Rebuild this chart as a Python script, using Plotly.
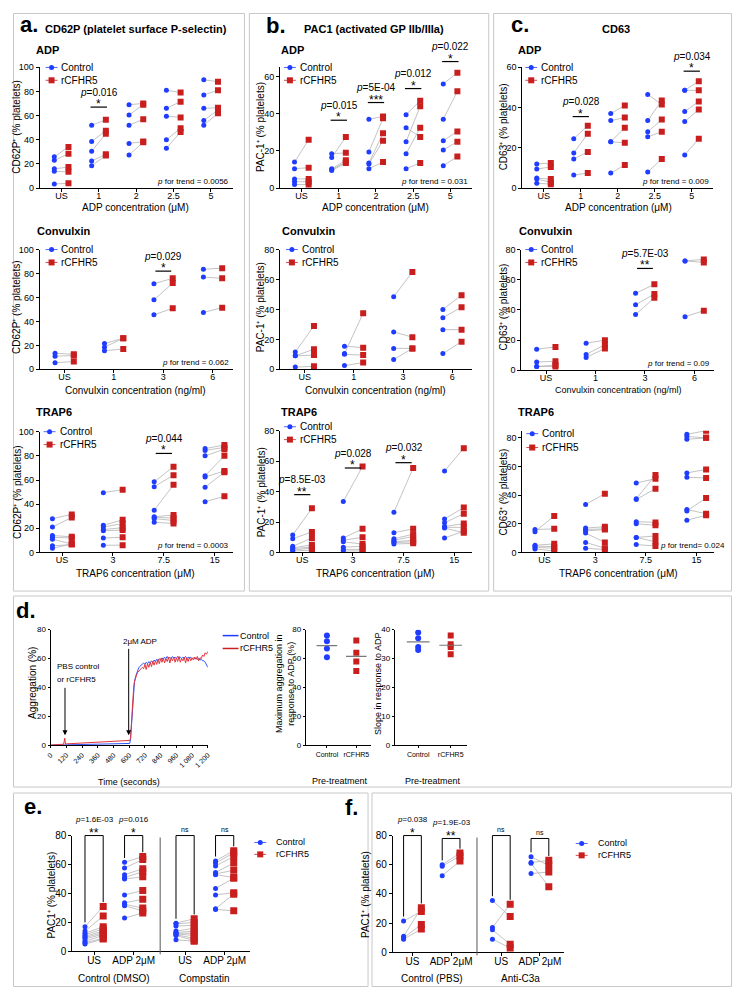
import plotly.graph_objects as go

# ---------------- data ----------------
adp_cats = ["US", "1", "2", "2.5", "5"]
cvx_cats = ["US", "1", "3", "6"]
trap_cats = ["US", "3", "7.5", "15"]
stim_cats = ["US", "ADP 2μM", "US", "ADP 2μM"]

# a. CD62P
cd62p_adp_ctrl = [[26, 23, 16, 14, 3.5], [52, 38.5, 30.5, 22.5, 18.5], [69, 60.5, 52, 37, 27.5],
                  [81, 66, 59.5, 40, 33], [89.5, 77, 66, 56, 52]]
cd62p_adp_rc = [[34, 28.5, 17.5, 13.5, 4], [56.5, 47.5, 45, 28, 27], [70, 69, 57, 38.5, 38],
                [79, 71.5, 58.5, 49.5, 46.5], [88, 81, 66.5, 64.5, 62]]
cd62p_cvx_ctrl = [[13.5, 11, 5.5], [21.5, 18.5, 15.5], [71.5, 58, 45.5], [83.5, 77, 47.5]]
cd62p_cvx_rc = [[12.5, 11.5, 6.5], [26, 26, 17], [76, 72, 51], [84.5, 76, 51.5]]
cd62p_trap_ctrl = [[28, 21, 14, 12.5, 11, 5.5, 3.5], [49.5, 22.5, 21, 19, 18, 12, 6],
                   [58.5, 54.5, 35, 29.5, 29, 28, 25], [86, 84.5, 80, 63.5, 62.5, 54, 42]]
cd62p_trap_rc = [[31.5, 29, 13, 12, 7, 6.5, 7], [52, 27, 24, 20.5, 18.5, 12.5, 6],
                 [71, 64, 56, 31, 28.5, 26.5, 24], [89, 87, 85.5, 80, 67.5, 66.5, 46.5]]

# b. PAC-1
pac1_adp_ctrl = [[14, 10.5, 5, 3.5, 2], [18.5, 16.5, 10.5, 10, 9.5], [37, 19.5, 13.5, 13, 10.5],
                 [39.5, 32.5, 25, 18.5, 10.5], [56, 37, 25.5, 20.5, 12]]
pac1_adp_rc = [[26, 11, 5, 3.5, 2], [19, 27.5, 15, 14, 13.5], [38.5, 37.5, 29.5, 25.5, 14],
               [47, 27.5, 44, 32.5, 13.5], [62, 52, 30.5, 25, 17]]
pac1_cvx_ctrl = [[11.5, 9, 9, 1.5], [10.5, 15.5, 10, 2.5], [48.5, 25, 14, 6.5], [40, 34.5, 26.5, 10.5]]
pac1_cvx_rc = [[29, 13.5, 9.5, 2], [37.5, 14.5, 9.5, 4.5], [65, 21.5, 14, 14], [49.5, 41.5, 26.5, 18.5]]
pac1_trap_ctrl = [[11.5, 9, 4, 3, 2.5, 1.5, 1], [33.5, 9.5, 8, 7, 3.5, 2, 1],
                  [26.5, 13, 9, 8, 7, 6.5, 5.5], [53.5, 22, 19.5, 17, 16.5, 16, 9.5]]
pac1_trap_rc = [[29, 13.5, 9.5, 5, 3.5, 3, 1.5], [56.5, 15.5, 10, 5.5, 4, 2, 1],
                [55.5, 15.5, 12, 10.5, 8, 7, 6], [68.5, 29.5, 25.5, 19, 16.5, 13, 14]]

# c. CD63
cd63_adp_ctrl = [[12, 9.5, 5, 4.5, 2.5], [24.5, 17.5, 14.5, 6.5], [37, 33.5, 23, 23, 7.5],
                 [46.5, 33.5, 28, 25.5, 8], [48.5, 48.5, 38, 33, 16.5]]
cd63_adp_rc = [[12.5, 10.5, 4.5, 3, 2], [31, 27, 18, 7.5], [41, 35, 30, 22.5, 11.5],
               [41.5, 43.5, 34, 28, 14.5], [53, 48.5, 43, 39, 24.5]]
cd63_cvx_ctrl = [[14, 5.5, 2.5, 2.5], [18, 10.5, 8.5], [51, 43.5, 37], [72.5, 72.5, 35.5]]
cd63_cvx_rc = [[15.5, 6, 3.5, 2.5], [20, 17, 14.5], [57, 50.5, 48], [73.5, 71.5, 39.5]]
cd63_trap_ctrl = [[16, 14.5, 5, 4.5, 3.5, 2.5], [33.5, 17, 16, 15, 13.5, 7, 3],
                  [48.5, 37.5, 37, 21.5, 20, 10.5, 10.5, 5.5], [82.5, 81, 79, 55.5, 52.5, 30, 29, 22.5]]
cd63_trap_rc = [[16.5, 25.5, 6, 4, 3, 1], [41, 18, 16.5, 16, 7, 3, 2],
                [51.5, 54, 44.5, 21, 19, 11.5, 7.5, 4.5], [85, 80, 80, 58, 52, 27, 38, 26]]

# significance: (category index, bar level, p, stars)
cd62p_adp_sig = [(1, 67, "0.016", "*")]
pac1_adp_sig = [(1, 36.5, "0.015", "*"), (2, 46, "5E-04", "***"), (3, 53.5, "0.012", "*"), (4, 68, "0.022", "*")]
cd63_adp_sig = [(1, 35.5, "0.028", "*"), (4, 58, "0.034", "*")]
cd62p_cvx_sig = [(2, 82, "0.029", "*")]
cd63_cvx_sig = [(2, 67.5, "5.7E-03", "**")]
cd62p_trap_sig = [(2, 82, "0.044", "*")]
pac1_trap_sig = [(0, 38, "8.5E-03", "**"), (1, 55.5, "0.028", "*"), (2, 59, "0.032", "*")]

# d. aggregation trace (time in seconds, aggregation %)
agg_time = [0, 60, 100, 108, 111, 114, 120, 180, 240, 300, 360, 420, 480, 540, 595, 600, 604,
            610, 616, 622, 628, 634, 640, 648, 656, 664, 672, 680, 690, 700,
            710, 720, 730, 740, 750, 760, 770, 780, 790, 800,
            810, 820, 830, 840, 850, 860, 870, 880, 890, 900,
            910, 920, 930, 940, 950, 960, 970, 980, 990, 1000,
            1010, 1020, 1030, 1040, 1050, 1060, 1070, 1080, 1090, 1100,
            1110, 1120, 1130, 1140, 1150, 1160, 1170, 1180, 1190, 1200]
agg_ctrl = [0.2, 0.3, 0.4, 0.4, 0.4, 0.5, 0.5, 0.6, 0.7, 0.8, 0.9, 1.0, 1.1, 1.2, 1.3, 1.3, 1.4,
            4, 13, 24, 33, 39, 43.5, 47.5, 50, 52, 53.5, 54.5, 55.5, 56.5,
            57.0, 56.0, 57.5, 56.5, 58.0, 57.0, 58.5, 57.5, 59.0, 58.0,
            59.5, 58.5, 60.0, 59.0, 60.5, 59.5, 61.0, 60.0, 61.5, 60.0,
            61.0, 60.0, 61.5, 60.5, 61.0, 60.0, 61.5, 60.5, 61.0, 60.0,
            61.0, 60.5, 61.5, 60.0, 61.0, 60.5, 61.0, 60.0, 60.5, 60.0,
            60.5, 59.5, 60.0, 59.0, 59.5, 58.5, 58.5, 57.5, 56.0, 54.0]
agg_rc = [0.3, 0.6, 0.9, 5.0, 2.0, 1.0, 1.1, 1.4, 1.7, 1.9, 2.1, 2.4, 2.6, 2.9, 3.2, 3.4, 3.5,
          5, 15, 26, 34, 40, 44, 47, 48.5, 50.5, 51.5, 52.5, 53, 54,
          53.0, 56.0, 52.5, 56.5, 54.0, 57.5, 54.5, 58.0, 55.5, 58.5,
          56.0, 59.5, 56.5, 60.0, 57.5, 60.5, 57.0, 60.0, 58.0, 61.0,
          57.0, 60.5, 58.5, 61.0, 57.5, 60.5, 58.0, 61.5, 57.5, 60.0,
          58.5, 61.0, 57.0, 60.5, 58.0, 61.0, 58.5, 60.5, 59.0, 61.0,
          59.5, 61.5, 58.5, 60.5, 60.0, 62.5, 61.5, 64.0, 63.0, 65.0]
time_ticks = [0, 120, 240, 360, 480, 600, 720, 840, 960, 1080, 1200]
time_labels = ["0", "120", "240", "360", "480", "600", "720", "840", "960", "1 080", "1 200"]
group_cats = ["Control", "rCFHR5"]
maxagg_ctrl = [76, 72, 67, 61]
maxagg_rc = [72.5, 64, 58, 51.5]
slope_ctrl = [39, 37, 34, 33]
slope_rc = [38, 35, 34, 31.5]

# e. / f. PAC1
pac1_e_ctrl = [[17, 14, 12.5, 11.5, 10.5, 9.5, 8.5, 7, 6, 5],
               [61.5, 57.5, 53, 51, 50, 39, 33.5, 32.5, 31.5, 23],
               [19.5, 19, 17.5, 14, 13, 12.5, 12, 11.5, 11, 8],
               [62.5, 61, 59, 54.5, 53.5, 53, 43.5, 39, 29.5, 29]]
pac1_e_rc = [[31, 24.5, 17, 15.5, 14, 13, 12, 11, 9, 8.5],
             [65.5, 63.5, 57, 55, 51.5, 42, 36, 30, 28, 26.5],
             [22.5, 20, 18, 16, 14, 12.5, 11, 9, 7.5, 7],
             [69.5, 68, 65.5, 61, 56, 51, 50.5, 40.5, 39.5, 28]]
e_groups = ["Control (DMSO)", "Compstatin"]
e_stars = ["**", "*", "ns", "ns"]
e_p = ["1.6E-03", "0.016", "", ""]
e_tops = [80, 80, 80, 80]

pac1_f_ctrl = [[21.5, 11, 10, 9], [60, 59, 52.5], [35.5, 17, 15.5, 9], [65.5, 61.5, 61, 54]]
pac1_f_rc = [[28, 30.5, 19, 16], [68, 66, 62.5], [24.5, 33, 5.5, 3], [59.5, 63, 45, 55]]
f_groups = ["Control (PBS)", "Anti-C3a"]
f_stars = ["*", "**", "ns", "ns"]
f_p = ["0.038", "1.9E-03", "", ""]
f_tops = [80, 78, 80, 78]

# ---------------- drawing ----------------
# the page keeps the browser's 8px body margin, so the figure is 16px smaller
# and every position below is given in page pixels and shifted by OFF
OFF = 8
FW, FH = 743 - 2 * OFF, 1000 - 2 * OFF
FONT = "Liberation Sans, Arial, sans-serif"
BLUE = "#1f3cff"
RED = "#c81e1e"
GRAY = "#b4b4b4"

fig = go.Figure()
anns, shps = [], []
AX = {}


def P(x, y):
    return (x - OFF) / FW, 1 - (y - OFF) / FH


def text(x, y, s, size=10, anchor="center", angle=0, bold=False):
    px_, py_ = P(x, y)
    if bold:
        s = "<b>" + s + "</b>"
    anns.append(dict(x=px_, y=py_, xref="paper", yref="paper", text=s, showarrow=False,
                     font=dict(family=FONT, size=size, color="black"),
                     xanchor=anchor, yanchor="middle", textangle=angle))


def line(x0, y0, x1, y1, color="black", width=1):
    a, b = P(x0, y0), P(x1, y1)
    shps.append(dict(type="line", xref="paper", yref="paper", x0=a[0], y0=a[1], x1=b[0], y1=b[1],
                     line=dict(color=color, width=width)))


def axes(n, box, xr, yr, yticks, xticks, xlabels, size=9, xsize=None, xangle=0, tl=3, xstand=0):
    l, r, t, b = box
    AX[n] = (box, xr, yr)
    s = "" if n == 1 else str(n)
    common = dict(showgrid=False, zeroline=False, showline=True, linecolor="black", linewidth=1,
                  ticks="outside", ticklen=tl, tickwidth=1, tickcolor="black", tickmode="array")
    fig.update_layout(**{
        "xaxis" + s: dict(domain=[P(l, 0)[0], P(r, 0)[0]], range=xr, anchor="y" + s, tickvals=xticks,
                          ticktext=xlabels, tickangle=xangle, ticklabelstandoff=xstand,
                          tickfont=dict(family=FONT, size=xsize or size, color="black"), **common),
        "yaxis" + s: dict(domain=[P(0, b)[1], P(0, t)[1]], range=yr, anchor="x" + s,
                          tickvals=yticks, tickfont=dict(family=FONT, size=size, color="black"), **common),
    })


def to_px(n, xv, yv):
    (l, r, t, b), xr, yr = AX[n]
    return (l + (xv - xr[0]) / (xr[1] - xr[0]) * (r - l),
            b - (yv - yr[0]) / (yr[1] - yr[0]) * (b - t))


def paired(n, pos, ctrl, rc, off, csize=5, rsize=6):
    s = "" if n == 1 else str(n)
    lx, ly, cx, cy, rx, ry = [], [], [], [], [], []
    for p, cs, rs in zip(pos, ctrl, rc):
        for c, r in zip(cs, rs):
            lx += [p - off, p + off, None]
            ly += [c, r, None]
        cx += [p - off] * len(cs)
        cy += cs
        rx += [p + off] * len(rs)
        ry += rs
    fig.add_trace(go.Scatter(x=lx, y=ly, mode="lines", line=dict(color=GRAY, width=0.8),
                             xaxis="x" + s, yaxis="y" + s, hoverinfo="skip"))
    fig.add_trace(go.Scatter(x=cx, y=cy, mode="markers", name="Control",
                             marker=dict(color=BLUE, size=csize), xaxis="x" + s, yaxis="y" + s))
    fig.add_trace(go.Scatter(x=rx, y=ry, mode="markers", name="rCFHR5",
                             marker=dict(color=RED, size=rsize, symbol="square"),
                             xaxis="x" + s, yaxis="y" + s))


def legend(x, y, dy=13, gap=8, size=10, markers=True, half=6):
    for k, (name, color, kind, r) in enumerate([("Control", BLUE, "circle", 2.5),
                                                ("rCFHR5", RED, "rect", 3)]):
        yy = y + k * dy
        line(x - half, yy, x + half, yy, color=color, width=0.8 if markers else 1.5)
        if markers:
            ax_, ay_ = P(x, yy)
            shps.append(dict(type=kind, xref="paper", yref="paper", xsizemode="pixel",
                             ysizemode="pixel", xanchor=ax_, yanchor=ay_,
                             x0=-r, x1=r, y0=-r, y1=r, fillcolor=color, line=dict(width=0)))
        text(x + gap, yy, name, size, anchor="left")


def sig(n, items, hw):
    for xi, yv, p, star in items:
        x0, y0 = to_px(n, xi - hw, yv)
        x1, _ = to_px(n, xi + hw, yv)
        line(x0, y0, x1, y0, width=1.2)
        xc = (x0 + x1) / 2
        text(xc, y0 - 3, star, 12)
        text(xc, y0 - 15, "<i>p</i>=" + p, 10)


def brackets(n, pos, ctrl, rc, off, tops, stars, ps):
    for p, cs, rs, top, st, pv in zip(pos, ctrl, rc, tops, stars, ps):
        xl, yt = to_px(n, p - off, top)
        xr_, _ = to_px(n, p + off, top)
        _, yl = to_px(n, p - off, max(cs) + 3)
        _, yr_ = to_px(n, p + off, max(rs) + 3)
        pts = [P(xl, yl), P(xl, yt), P(xr_, yt), P(xr_, yr_)]
        path = "M " + " L ".join("%f,%f" % q for q in pts)
        shps.append(dict(type="path", xref="paper", yref="paper", path=path,
                         line=dict(color="black", width=1)))
        xc = (xl + xr_) / 2
        if st == "ns":
            text(xc, yt - 6, st, 7)
        else:
            text(xc, yt - 3, st, 12)
        if pv:
            text(xc, yt - 16, "<i>p</i>=" + pv, 8)


# panel frames (outer edges kept just inside the figure)
lo_x, hi_x, lo_y, hi_y = OFF + 0.5, OFF + FW - 0.5, OFF + 0.5, OFF + FH - 0.5
for l, t, r, b in [(2, 2, 242, 592), (247, 2, 489, 592), (494, 2, 740, 592),
                   (2, 597, 740, 790), (2, 796, 367, 998), (371, 796, 740, 998)]:
    l, r = max(l, lo_x), min(r, hi_x)
    t, b = max(t, lo_y), min(b, hi_y)
    (x0, y0), (x1, y1) = P(l, b), P(r, t)
    shps.append(dict(type="rect", xref="paper", yref="paper", x0=x0, x1=x1, y0=y0, y1=y1,
                     line=dict(color="#c8c8c8", width=1)))

# rows a-c
y100 = [0, 20, 40, 60, 80, 100]
y80 = [0, 20, 40, 60, 80]
y60 = [0, 20, 40, 60]
rows = [
    (1, (35, 230, 62.7, 185), [-0.58, 4.58], [0, 100], y100, adp_cats, cd62p_adp_ctrl, cd62p_adp_rc, cd62p_adp_sig, "0.0056", (47, 63), 0),
    (2, (278, 472, 62.7, 185), [-0.58, 4.58], [0, 65], y60, adp_cats, pac1_adp_ctrl, pac1_adp_rc, pac1_adp_sig, "0.031", (288, 63), 0),
    (3, (523, 716, 62.7, 185), [-0.58, 4.58], [0, 60], y60, adp_cats, cd63_adp_ctrl, cd63_adp_rc, cd63_adp_sig, "0.009", (532, 63), 0),
    (4, (35, 230, 247, 368), [-0.5, 3.4], [0, 100], y100, cvx_cats, cd62p_cvx_ctrl, cd62p_cvx_rc, cd62p_cvx_sig, "0.062", (47, 247), 0),
    (5, (278, 472, 247, 368), [-0.5, 3.4], [0, 80], y80, cvx_cats, pac1_cvx_ctrl, pac1_cvx_rc, [], "", (290, 247), 0),
    (6, (522, 717, 247, 369), [-0.5, 3.4], [0, 80], y80, cvx_cats, cd63_cvx_ctrl, cd63_cvx_rc, cd63_cvx_sig, "0.09", (532, 247), 0),
    (7, (35, 230, 431, 553), [-0.44, 3.35], [0, 100], y100, trap_cats, cd62p_trap_ctrl, cd62p_trap_rc, cd62p_trap_sig, "0.0003", (45, 431), 0),
    (8, (278, 472, 430, 553), [-0.44, 3.35], [0, 80], y80, trap_cats, pac1_trap_ctrl, pac1_trap_rc, pac1_trap_sig, "", (288, 426), 0),
    (9, (523, 717, 430, 553), [-0.44, 3.35], [0, 85], y80, trap_cats, cd63_trap_ctrl, cd63_trap_rc, [], "0.024", (533, 433), 1),
]
for n, box, xr, yr, yt, cats, ctrl, rc, sg, tr, lg, alt in rows:
    pos = list(range(len(cats)))
    axes(n, box, xr, yr, yt, pos, cats, xstand=-4)
    paired(n, pos, ctrl, rc, 0.19)
    sig(n, sg, 0.22 if n <= 3 else 0.16)
    if tr:
        if alt:
            text(box[1] + 13, box[3] - 7, "<i>p</i> for trend= " + tr, 8, anchor="right")
        else:
            text(box[1] - 2, box[3] - 7, "<i>p</i> for trend = " + tr, 8, anchor="right")
    legend(lg[0], lg[1], dy=14 if alt else 13)

# row / panel texts
text(13, 20, "a.", 22, anchor="left", bold=True)
text(38, 24, "CD62P (platelet surface P-selectin)", 11, anchor="left", bold=True)
text(262, 21, "b.", 22, anchor="left", bold=True)
text(300, 24, "PAC1 (activated GP IIb/IIIa)", 11, anchor="left", bold=True)
text(510, 20, "c.", 22, anchor="left", bold=True)
text(602, 24, "CD63", 11, anchor="left", bold=True)
for x0, x1, yl in [(29, 12, "CD62P⁺ (% platelets)"), (277, 259, "PAC-1⁺ (% platelets)"),
                   (517, 504, "CD63⁺ (% platelets)")]:
    text(x0, 45, "ADP", 11, anchor="left", bold=True)
    text(x0 + 1, 228, "Convulxin", 11, anchor="left", bold=True)
    text(x0, 411, "TRAP6", 11, anchor="left", bold=True)
    for yc in (123, 305, 492):
        text(x1, yc, yl, 10, angle=-90)
for xc in (132, 375, 620):
    text(xc, 205, "ADP concentration (μM)", 10)
    text(xc, 389, "Convulxin concentration (ng/ml)", 9 if xc > 600 else 10)
    text(xc, 574, "TRAP6 concentration (μM)", 10)

# d. aggregation
axes(10, (46, 205, 631, 748), [0, 1200], [0, 80], y80, time_ticks, time_labels, size=8, xsize=7,
     xangle=-45, tl=2)
fig.add_trace(go.Scatter(x=agg_time, y=agg_ctrl, mode="lines", name="Control",
                         line=dict(color="#3355ff", width=1), xaxis="x10", yaxis="y10"))
fig.add_trace(go.Scatter(x=agg_time, y=agg_rc, mode="lines", name="rCFHR5",
                         line=dict(color="#e0353d", width=1), xaxis="x10", yaxis="y10"))
for xv, ay in [(596, -88), (110, -49)]:
    anns.append(dict(x=xv, y=7, xref="x10", yref="y10", text="", showarrow=True, ax=0, ay=ay,
                     arrowhead=2, arrowsize=1, arrowwidth=1, arrowcolor="black"))
text(117, 643, "2μM ADP", 8, anchor="left")
text(50, 668, "PBS control", 8, anchor="left")
text(50, 681, "or rCFHR5", 8, anchor="left")
text(27, 685, "Aggregation (%)", 10, angle=-90)
text(125, 785, "Time (seconds)", 9)
legend(228, 637, dy=13, gap=8, size=9, markers=False, half=8)
text(9, 612, "d.", 22, anchor="left", bold=True)

for n, box, yr, yt, cv, rv, ylab, yx in [
        (11, (304, 370, 631, 748), [0, 80], y80, maxagg_ctrl, maxagg_rc,
         "Maximum aggregation in<br>response to ADP (%)", 283),
        (12, (394, 467, 631, 748), [0, 40], [0, 10, 20, 30, 40], slope_ctrl, slope_rc,
         "Slope in response to ADP", 377)]:
    axes(n, box, [-0.72, 1.5], yr, yt, [0, 1], group_cats, size=8, xsize=7, tl=2)
    s = str(n)
    fig.add_trace(go.Scatter(x=[0] * len(cv), y=cv, mode="markers", marker=dict(color=BLUE, size=6),
                             xaxis="x" + s, yaxis="y" + s))
    fig.add_trace(go.Scatter(x=[1] * len(rv), y=rv, mode="markers",
                             marker=dict(color=RED, size=6, symbol="square"), xaxis="x" + s, yaxis="y" + s))
    for xi, vals in [(0, cv), (1, rv)]:
        m = sum(vals) / len(vals)
        fig.add_trace(go.Scatter(x=[xi - 0.35, xi + 0.35], y=[m, m], mode="lines",
                                 line=dict(color="#7a7a7a", width=1.2), xaxis="x" + s, yaxis="y" + s))
    text(yx, 685, ylab, 9, angle=-90)
    text((box[0] + box[1]) / 2 + 2, 784, "Pre-treatment", 9)

# e. / f.
stim_pos = [0, 1, 2.3, 3.3]
for n, box, xr, ctrl, rc, tops, stars, ps, groups, lab, lx, ylx, lg in [
        (13, (68, 248, 839, 956), [-0.55, 3.95], pac1_e_ctrl, pac1_e_rc, e_tops, e_stars, e_p,
         e_groups, "e.", 17, 47, (258, 846)),
        (14, (392, 565, 839, 957), [-0.51, 3.92], pac1_f_ctrl, pac1_f_rc, f_tops, f_stars, f_p,
         f_groups, "f.", 342, 365, (583, 847))]:
    axes(n, box, xr, [0, 80], y80, stim_pos, stim_cats, size=10, xstand=-3)
    paired(n, stim_pos, ctrl, rc, 0.23, csize=5, rsize=7)
    brackets(n, stim_pos, ctrl, rc, 0.23, tops, stars, ps)
    xs, yt = to_px(n, 1.67, 80)
    _, yb = to_px(n, 1.67, 0)
    line(xs, yt + 2, xs, yb + 3, color="#555555", width=1)
    gx0, _ = to_px(n, 0.5, 0)
    gx1, _ = to_px(n, 2.8, 0)
    text(gx0, 983, groups[0], 10)
    text(gx1, 983, groups[1], 10)
    text(lx, 810 if lab == "e." else 811, lab, 22, anchor="left", bold=True)
    text(ylx, 899, "PAC1⁺ (% platelets)", 10, angle=-90)
    legend(lg[0], lg[1], dy=12, gap=14, size=9)

fig.update_layout(width=FW, height=FH, margin=dict(l=0, r=0, t=0, b=0), showlegend=False,
                  plot_bgcolor="white", paper_bgcolor="white",
                  font=dict(family=FONT, color="black"),
                  annotations=anns, shapes=shps)
fig.write_html("out.html", config={"displayModeBar": False})
